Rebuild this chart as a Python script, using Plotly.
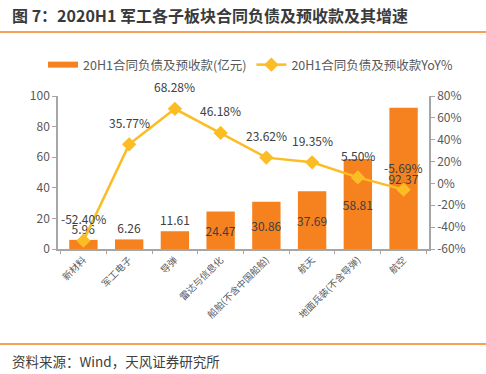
import plotly.graph_objects as go

categories = ["新材料", "军工电子", "导弹", "雷达与信息化", "船舶(不含中国船舶)", "航天", "地面兵装(不含导弹)", "航空"]
amount = [5.96, 6.26, 11.61, 24.47, 30.86, 37.69, 58.81, 92.37]
yoy = [-52.40, 35.77, 68.28, 46.18, 23.62, 19.35, 5.50, -5.69]
left_ticks = [0, 20, 40, 60, 80, 100]
right_ticks = [-60, -40, -20, 0, 20, 40, 60, 80]

FONT = "Noto Sans CJK SC"
ORANGE = "#F5821F"
GOLD = "#FBBC24"
TXT = "#404040"
AX = "#A6A6A6"
BAR_NAME = "20H1合同负债及预收款(亿元)"
LINE_NAME = "20H1合同负债及预收款YoY%"

fig = go.Figure()
fig.add_trace(go.Bar(
    x=categories, y=amount, name=BAR_NAME, showlegend=False,
    marker=dict(color=ORANGE, line=dict(width=0)),
    text=[f"{v:.2f}" for v in amount],
    textposition=["outside", "outside", "outside", "inside", "inside", "inside", "inside", "inside"],
    insidetextanchor="middle", textangle=0,
    constraintext="none", cliponaxis=False,
    textfont=dict(family=FONT, size=12, color=TXT),
    insidetextfont=dict(family=FONT, size=12, color=TXT),
    outsidetextfont=dict(family=FONT, size=12, color=TXT),
))
# legend entry for the bar series (flat wide swatch as in the reference)
fig.add_trace(go.Scatter(
    x=[None], y=[None], name=BAR_NAME, mode="lines",
    line=dict(color=ORANGE, width=6), showlegend=True,
))
fig.add_trace(go.Scatter(
    x=categories, y=yoy, name=LINE_NAME, yaxis="y2",
    mode="lines+markers",
    line=dict(color=GOLD, width=2.5),
    marker=dict(symbol="diamond", size=11, color=GOLD),
    cliponaxis=False,
))
for c, v in zip(categories, yoy):
    fig.add_annotation(x=c, y=v, xref="x", yref="y2", text=f"{v:.2f}%", showarrow=False,
                       yshift=22, font=dict(family=FONT, size=12, color=TXT))

fig.update_layout(
    width=486, height=374,
    margin=dict(l=58, r=57, t=96, b=125, autoexpand=False),
    paper_bgcolor="white", plot_bgcolor="white",
    font=dict(family=FONT, color=TXT),
    bargap=0.38,
    showlegend=True,
    legend=dict(orientation="h", x=(43 - 58) / 371, xanchor="left",
                y=1 + (96 - 65) / 153, yanchor="middle",
                font=dict(family=FONT, size=12.5, color="#595959"), traceorder="normal",
                itemwidth=30, bgcolor="rgba(0,0,0,0)"),
    xaxis=dict(type="category", tickangle=-45, showline=True, linecolor=AX, linewidth=1.5,
               ticks="outside", tickson="boundaries", ticklen=3, tickcolor=AX,
               tickfont=dict(family=FONT, size=9.5, color="#595959"), showgrid=False),
    yaxis=dict(range=[0, 100], tickvals=left_ticks, showline=True, linecolor=AX, linewidth=1.5,
               ticks="outside", ticklen=4, tickcolor=AX, showgrid=False, zeroline=False,
               tickfont=dict(family=FONT, size=12, color="#595959")),
    yaxis2=dict(range=[-60, 80], tickvals=right_ticks, ticktext=[f"{v}%" for v in right_ticks],
                overlaying="y", side="right", showline=True, linecolor=AX, linewidth=1.5,
                ticks="outside", ticklen=4, tickcolor=AX, showgrid=False, zeroline=False,
                tickfont=dict(family=FONT, size=12, color="#595959")),
)

fig.add_annotation(text="<b>图 7：2020H1 军工各子板块合同负债及预收款及其增速</b>",
                   xref="paper", yref="paper", x=-48/371, xanchor="left",
                   y=1 + (96 - 15) / 153, yanchor="middle", showarrow=False,
                   font=dict(family=FONT, size=16, color="#3a3a3a"))
fig.add_annotation(text="资料来源：Wind，天风证券研究所",
                   xref="paper", yref="paper", x=-48/371, xanchor="left",
                   y=-(361 - 249) / 153, yanchor="middle", showarrow=False,
                   font=dict(family=FONT, size=13.5, color=TXT))
fig.add_shape(type="line", xref="paper", yref="paper", x0=-58/371, x1=(486 - 58)/371,
              y0=1 + (96 - 32) / 153, y1=1 + (96 - 32) / 153, line=dict(color=ORANGE, width=1.5))
fig.add_shape(type="line", xref="paper", yref="paper", x0=-58/371, x1=(486 - 58)/371,
              y0=-(344 - 249) / 153, y1=-(344 - 249) / 153, line=dict(color=ORANGE, width=1.5))

fig.write_html("out.html", post_script="document.body.style.margin='0';",
               config={"displayModeBar": False})
